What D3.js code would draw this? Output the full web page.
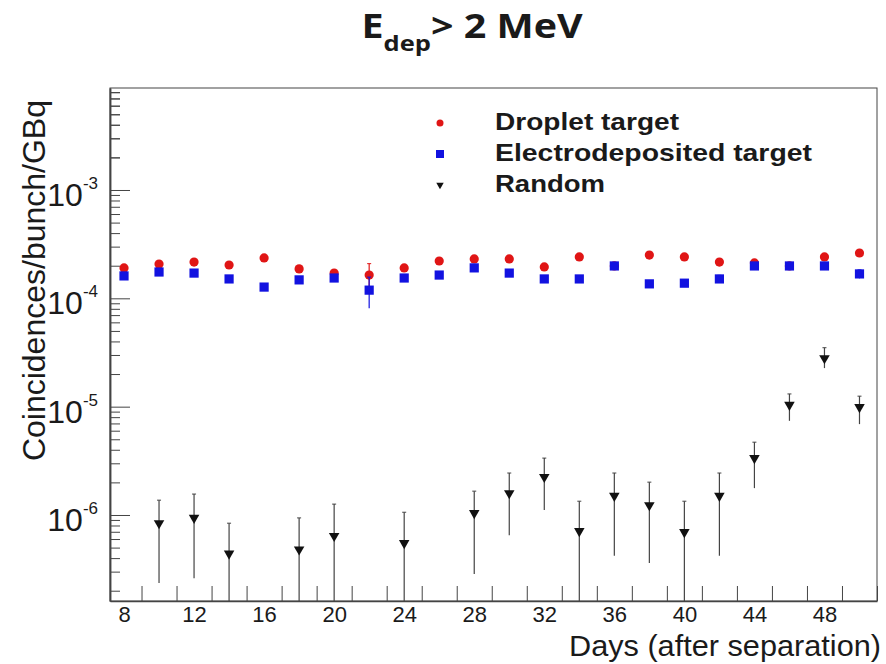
<!DOCTYPE html>
<html>
<head>
<meta charset="utf-8">
<script src="https://cdn.jsdelivr.net/npm/d3@7/dist/d3.min.js"></script>
<style>
  body { margin: 0; background: #fff; }
  svg text { font-family: "Liberation Sans", Arial, sans-serif; fill: #1a1a1a; }
</style>
</head>
<body>
<svg id="chart"></svg>
<script>
"use strict";

// data
var days = [8, 10, 12, 14, 16, 18, 20, 22, 24, 26, 28, 30, 32, 34, 36, 38, 40, 42, 44, 46, 48, 50];
var droplet = [1.91e-4, 2.07e-4, 2.16e-4, 2.03e-4, 2.36e-4, 1.87e-4, 1.71e-4, 1.64e-4, 1.91e-4, 2.21e-4, 2.31e-4,
  2.31e-4, 1.95e-4, 2.41e-4, 1.99e-4, 2.51e-4, 2.41e-4, 2.16e-4, 2.12e-4, 1.99e-4, 2.41e-4, 2.62e-4];
var dropletErr = [8e-6, 8e-6, 8e-6, 8e-6, 8e-6, 8e-6, 8e-6, 4.5e-5, 8e-6, 8e-6, 8e-6,
  8e-6, 8e-6, 8e-6, 8e-6, 8e-6, 8e-6, 8e-6, 8e-6, 8e-6, 8e-6, 8e-6];
var electro = [1.61e-4, 1.75e-4, 1.71e-4, 1.51e-4, 1.27e-4, 1.48e-4, 1.54e-4, 1.19e-4, 1.54e-4, 1.64e-4, 1.91e-4,
  1.71e-4, 1.51e-4, 1.51e-4, 1.99e-4, 1.36e-4, 1.38e-4, 1.51e-4, 1.99e-4, 1.99e-4, 1.99e-4, 1.68e-4];
var electroErr = [1e-5, 8e-6, 8e-6, 8e-6, 8e-6, 8e-6, 8e-6, 3.8e-5, 8e-6, 8e-6, 8e-6,
  8e-6, 1e-5, 1e-5, 1.4e-5, 1e-5, 1e-5, 1.2e-5, 8e-6, 8e-6, 8e-6, 1.5e-5];

var randomDays = [10, 12, 14, 18, 20, 24, 28, 30, 32, 34, 36, 38, 40, 42, 44, 46, 48, 50];
var random = [8.4e-7, 9.4e-7, 4.4e-7, 4.8e-7, 6.4e-7, 5.5e-7, 1.04e-6, 1.59e-6, 2.24e-6, 7.1e-7, 1.5e-6,
  1.23e-6, 6.95e-7, 1.5e-6, 3.35e-6, 1.04e-5, 2.8e-5, 9.9e-6];
var randomHigh = [1.37e-6, 1.56e-6, 8.4e-7, 9.4e-7, 1.26e-6, 1.06e-6, 1.66e-6, 2.44e-6, 3.35e-6, 1.34e-6, 2.44e-6,
  2.01e-6, 1.34e-6, 2.44e-6, 4.7e-6, 1.31e-5, 3.5e-5, 1.25e-5];
var randomLow = [2.35e-7, 2.6e-7, 0, 0, 0, 0, 2.85e-7, 6.5e-7, 1.11e-6, 0, 4.2e-7,
  3.6e-7, 0, 4.2e-7, 1.77e-6, 7.4e-6, 2.27e-5, 6.9e-6];

var xLabels = [8, 12, 16, 20, 24, 28, 32, 36, 40, 44, 48];
var xTickDays = [9, 11, 13, 15, 17, 19, 21, 23, 25, 27, 29, 31, 33, 35, 37, 39, 41, 43, 45, 47, 49, 51];
var yExponents = [-6, -5, -4, -3];
var legendNames = ["Droplet target", "Electrodeposited target", "Random"];

var width = 886, height = 664;
var margin = { top: 88, right: 9, bottom: 63, left: 110 };
var plotW = width - margin.left - margin.right;
var plotH = height - margin.top - margin.bottom;

var red = "#e01515", blue = "#1212e0";

var svg = d3.select("#chart").attr("width", width).attr("height", height);

var x = d3.scaleLinear().domain([7.2, 51]).range([0, plotW]);
var y = d3.scaleLog().domain([1.607e-7, 8.74e-3]).range([plotH, 0]);
function yv(v) { return v > 0 ? Math.max(0, Math.min(plotH, y(v))) : plotH; }

// title (slightly widened like the original)
var title = svg.append("text").attr("transform", "translate(472,38) scale(1.16,1)").attr("text-anchor", "middle")
  .style("font-family", "'Open Sans', Lato, sans-serif").style("font-weight", "bold").style("font-size", "34px");
title.append("tspan").text("E");
title.append("tspan").attr("dy", 13).style("font-size", "22px").text("dep");
title.append("tspan").attr("dy", -13).text("> 2 MeV");

var G = svg.append("g").attr("transform", "translate(" + margin.left + "," + margin.top + ")");

// frame
G.append("rect").attr("width", plotW).attr("height", plotH)
  .attr("fill", "none").attr("stroke", "#444").attr("stroke-width", 1);

// y axis: major + minor ticks pointing inwards
var minor = [];
yExponents.concat([-7, -3]).forEach(function (e) {
  for (var k = 2; k <= 9; k++) minor.push(k * Math.pow(10, e));
});
minor = minor.filter(function (v) { return v > y.domain()[0] && v < y.domain()[1]; });
var yMajor = yExponents.map(function (e) { return Math.pow(10, e); });

G.append("g").attr("class", "y-minor")
  .call(d3.axisLeft(y).tickValues(minor).tickSizeInner(-10).tickSizeOuter(0).tickFormat(""));
G.append("g").attr("class", "y-major")
  .call(d3.axisLeft(y).tickValues(yMajor).tickSizeInner(-20).tickSizeOuter(0).tickFormat(""));

var yLab = G.append("g").selectAll("text").data(yExponents).enter().append("text")
  .attr("x", -12).attr("y", function (e) { return y(Math.pow(10, e)) + 16; })
  .attr("text-anchor", "end").style("font-size", "32px");
yLab.append("tspan").text("10");
yLab.append("tspan").attr("dy", -17).style("font-size", "17px").text(function (e) { return "-" + (-e); });

// x axis
G.append("g").attr("class", "x-ticks").attr("transform", "translate(0," + plotH + ")")
  .call(d3.axisBottom(x).tickValues(xTickDays).tickSizeInner(-15).tickSizeOuter(0).tickFormat(""));
var xAxisLab = G.append("g").attr("class", "x-labels").attr("transform", "translate(0," + plotH + ")")
  .call(d3.axisBottom(x).tickValues(xLabels).tickSize(0).tickPadding(5).tickFormat(d3.format("d")));
xAxisLab.select(".domain").remove();
xAxisLab.selectAll("text").style("font-size", "22px").style("font-family", "'Liberation Sans', Arial, sans-serif");

G.selectAll(".domain").attr("stroke", "#444").attr("stroke-width", 1.5);
G.selectAll(".tick line").attr("stroke", "#444").attr("stroke-width", 1);

// axis titles
svg.append("text").attr("x", 881).attr("y", 656).attr("text-anchor", "end")
  .attr("textLength", 312).attr("lengthAdjust", "spacingAndGlyphs")
  .style("font-size", "30px").text("Days (after separation)");
svg.append("text").attr("transform", "translate(45,100) rotate(-90)").attr("text-anchor", "end")
  .style("font-size", "32px").text("Coincidences/bunch/GBq");

// error bars
function errBars(cls, xs, hi, lo, color) {
  var g = G.append("g").attr("class", cls);
  g.selectAll("line.bar").data(xs).enter().append("line").attr("class", "bar")
    .attr("x1", function (d) { return x(d); }).attr("x2", function (d) { return x(d); })
    .attr("y1", function (d, i) { return yv(hi[i]); }).attr("y2", function (d, i) { return yv(lo[i]); })
    .attr("stroke", color).attr("stroke-width", 1.2);
  g.selectAll("line.cap").data(xs).enter().append("line").attr("class", "cap")
    .attr("x1", function (d) { return x(d) - 2; }).attr("x2", function (d) { return x(d) + 2; })
    .attr("y1", function (d, i) { return yv(hi[i]); }).attr("y2", function (d, i) { return yv(hi[i]); })
    .attr("stroke", color).attr("stroke-width", 1);
}

errBars("err-droplet", days,
  droplet.map(function (v, i) { return v + dropletErr[i]; }),
  droplet.map(function (v, i) { return v - dropletErr[i]; }), red);
G.append("g").selectAll("circle").data(days).enter().append("circle")
  .attr("cx", function (d) { return x(d); }).attr("cy", function (d, i) { return y(droplet[i]); })
  .attr("r", 4.6).attr("fill", red);

errBars("err-electro", days,
  electro.map(function (v, i) { return v + electroErr[i]; }),
  electro.map(function (v, i) { return v - electroErr[i]; }), blue);
G.append("g").selectAll("rect").data(days).enter().append("rect")
  .attr("x", function (d) { return x(d) - 4.6; }).attr("y", function (d, i) { return y(electro[i]) - 4.6; })
  .attr("width", 9.2).attr("height", 9.2).attr("fill", blue);

errBars("err-random", randomDays, randomHigh, randomLow, "#444");
var tri = d3.symbol().type(d3.symbolTriangle).size(48);
G.append("g").selectAll("path").data(randomDays).enter().append("path")
  .attr("d", tri)
  .attr("transform", function (d, i) { return "translate(" + x(d) + "," + y(random[i]) + ") rotate(180)"; })
  .attr("fill", "#111");

// legend
var legend = svg.append("g").attr("class", "legend");
var legendY = [123, 154, 185];
var legendW = [184, 317, 110];
legendNames.forEach(function (name, i) {
  legend.append("text").attr("x", 495).attr("y", legendY[i] + 7)
    .attr("textLength", legendW[i]).attr("lengthAdjust", "spacingAndGlyphs")
    .style("font-weight", "bold").style("font-size", "24px").text(name);
});
legend.append("circle").attr("cx", 440).attr("cy", legendY[0]).attr("r", 3.5).attr("fill", red);
legend.append("rect").attr("x", 436).attr("y", legendY[1] - 4).attr("width", 8).attr("height", 8).attr("fill", blue);
legend.append("path").attr("d", d3.symbol().type(d3.symbolTriangle).size(24))
  .attr("transform", "translate(440," + legendY[2] + ") rotate(180)").attr("fill", "#111");
</script>
</body>
</html>
